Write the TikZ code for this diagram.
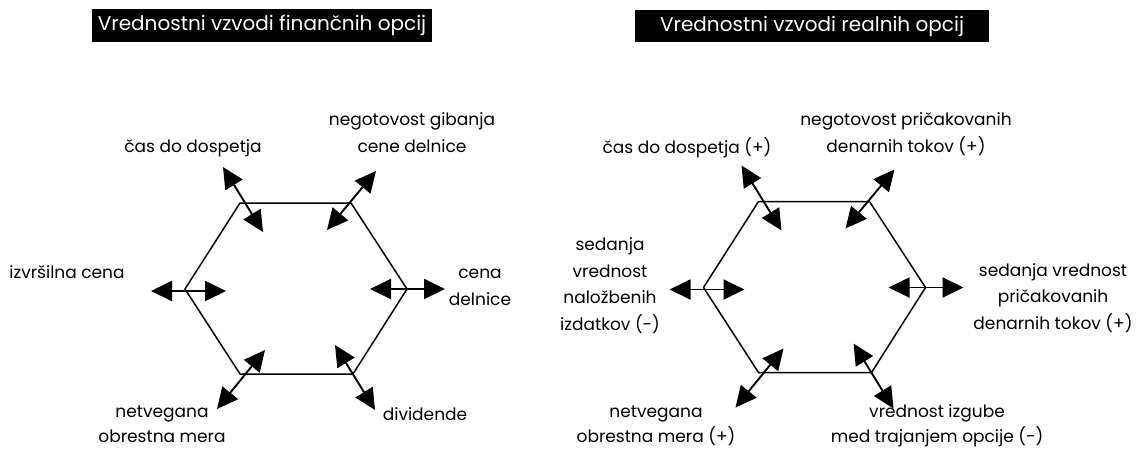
\documentclass[tikz,border=0pt]{standalone}
\usepackage{fontspec}
\setmainfont{Poppins}
\usetikzlibrary{arrows.meta}

% hexagon with six double-headed arrows through its corners
\newcommand\leverhex[1]{%
  \coordinate (#1TL) at (240,203);
  \coordinate (#1TR) at (351,203);
  \coordinate (#1R)  at (407,289);
  \coordinate (#1BR) at (353,374);
  \coordinate (#1BL) at (240,374);
  \coordinate (#1L)  at (185,289);
  \draw[hexline] (#1TL) -- (#1TR) -- (#1R) -- (#1BR) -- (#1BL) -- (#1L) -- cycle;
  % arrow end points
  \coordinate (#1La)  at (151,291); \coordinate (#1Lb)  at (226,291);
  \coordinate (#1Ra)  at (370,289); \coordinate (#1Rb)  at (445,289);
  \coordinate (#1TLa) at (223,167); \coordinate (#1TLb) at (263,232);
  \coordinate (#1TRa) at (376,171); \coordinate (#1TRb) at (327,230);
  \coordinate (#1BLa) at (217,409); \coordinate (#1BLb) at (265,350);
  \coordinate (#1BRa) at (335,345); \coordinate (#1BRb) at (375,410);
  \draw[dblarrow] (#1La) -- (#1Lb);
  \draw[dblarrow] (#1Ra) -- (#1Rb);
  \draw[dblarrow] (#1TLa) -- (#1TLb);
  \draw[dblarrow] (#1TRa) -- (#1TRb);
  \draw[dblarrow] (#1BLa) -- (#1BLb);
  \draw[dblarrow] (#1BRa) -- (#1BRb);
}

\begin{document}
\begin{tikzpicture}[x=1pt,y=-1pt,
  hexline/.style={line width=1.5pt, line join=miter},
  dblarrow/.style={line width=1.9pt,
    {Triangle[length=21pt,width=20pt]}-{Triangle[length=21pt,width=20pt]}},
  lbl/.style={align=center, anchor=base, inner sep=0pt,
    font=\fontsize{17}{26.5}\selectfont},
  lowlbl/.style={lbl, font=\fontsize{17}{25}\selectfont},
  titlebox/.style={fill=black, text=white, inner sep=0pt,
    font=\fontsize{20}{24}\selectfont}
]
\useasboundingbox[fill=white] (0,0) rectangle (1145,448);

% titles
\node[titlebox, minimum width=340pt, minimum height=33pt] (t1) at (262,25.5)
  {Vrednostni vzvodi finančnih opcij};
\node[titlebox, minimum width=354pt, minimum height=32pt] (t2) at (812,26)
  {Vrednostni vzvodi realnih opcij};

% financial options (the base anchor sits on the last line)
\leverhex{f}
\node[lbl] (f1) at (193,152) {čas do dospetja};
\node[lbl] (f2) at (412,152) {negotovost gibanja\\cene delnice};
\node[lbl] (f3) at (67,278) {izvršilna cena};
\node[lbl] (f4) at (480,305) {cena\\delnice};
\node[lowlbl] (f5) at (162,442) {netvegana\\obrestna mera};
\node[lbl] (f6) at (425,420) {dividende};

% real options
\begin{scope}[shift={(518.5,-1.5)}]
\leverhex{r}
\end{scope}
\node[lbl] (r1) at (687,153) {čas do dospetja (+)};
\node[lbl] (r2) at (906,152) {negotovost pričakovanih\\denarnih tokov (+)};
\node[lbl] (r3) at (610,330) {sedanja\\vrednost\\naložbenih\\izdatkov (-)};
\node[lbl] (r4) at (1053,329) {sedanja vrednost\\pričakovanih\\denarnih tokov (+)};
\node[lowlbl] (r5) at (656,442) {netvegana\\obrestna mera (+)};
\node[lowlbl] (r6) at (937,442) {vrednost izgube\\med trajanjem opcije (-)};
\end{tikzpicture}
\end{document}
